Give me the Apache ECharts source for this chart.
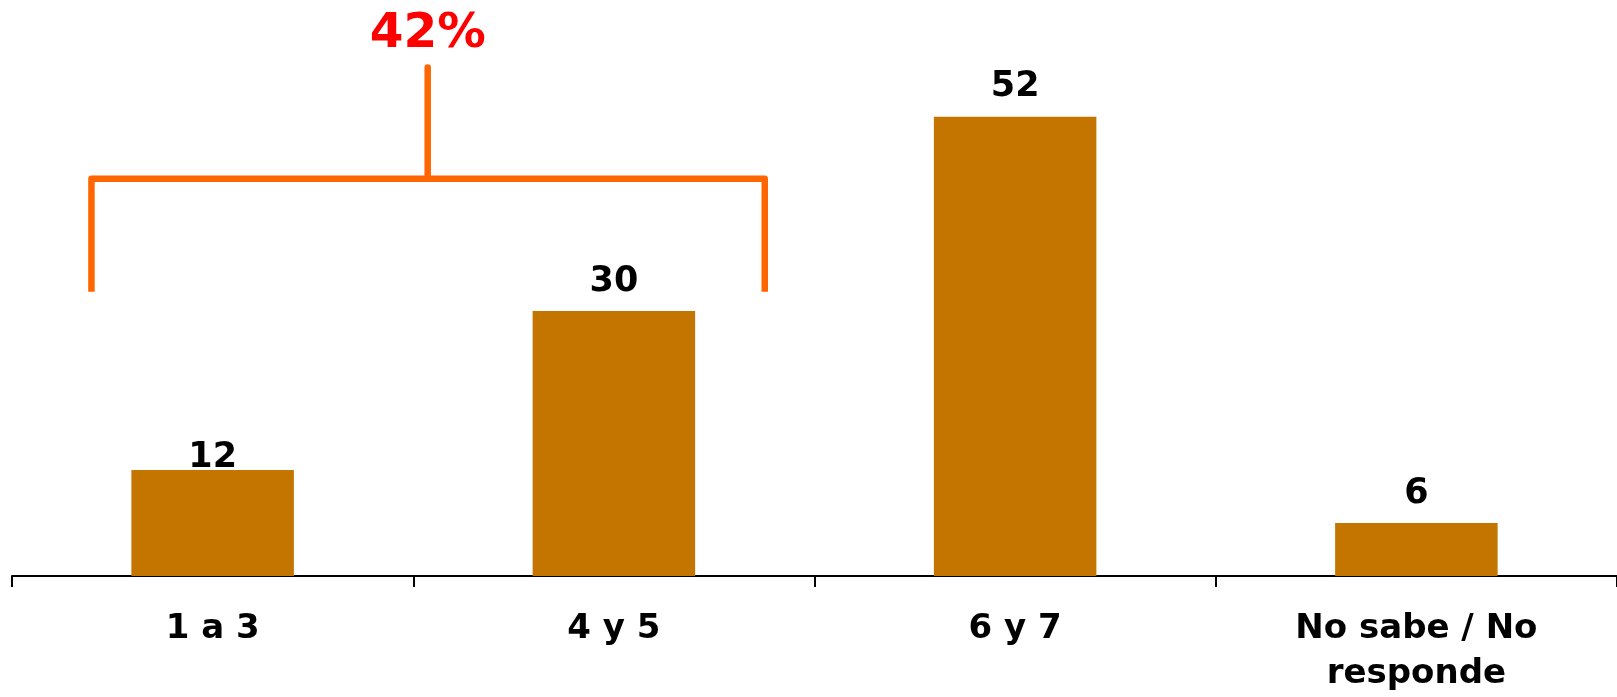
<!DOCTYPE html>
<html>
<head>
<meta charset="utf-8">
<script src="https://cdn.jsdelivr.net/npm/echarts@6/dist/echarts.min.js"></script>
<style>
  html, body { margin: 0; padding: 0; background: #fff; }
  #chart { width: 1617px; height: 697px; }
</style>
</head>
<body>
<div id="chart"></div>
<script>
// Survey answers grouped by score range
const categories = ['1 a 3', '4 y 5', '6 y 7', 'No sabe / No\nresponde'];
const values = [12, 30, 52, 6];
// Categories summed under the bracket
const bracketGroup = [0, 1];

const FONT = 'Verdana, "DejaVu Sans", sans-serif';
const BAR_COLOR = '#C47500';
const BRACKET_COLOR = '#FF6600';

const bracketTotal = bracketGroup.reduce((s, i) => s + values[i], 0);

const chart = echarts.init(document.getElementById('chart'), null, { renderer: 'canvas' });

chart.setOption({
  animation: false,
  backgroundColor: '#fff',
  grid: { left: 12, width: 1612, top: 46.2, height: 535.8, containLabel: false },
  xAxis: {
    type: 'category',
    data: categories,
    boundaryGap: true,
    axisLine: { lineStyle: { color: '#000', width: 2 } },
    axisTick: { show: true, length: 11, lineStyle: { color: '#000', width: 2 } },
    axisLabel: {
      color: '#000', fontFamily: FONT, fontWeight: 'bold', fontSize: 34,
      lineHeight: 45, margin: 31, interval: 0
    }
  },
  yAxis: {
    type: 'value', min: 0, max: 60, show: false,
    splitLine: { show: false }
  },
  series: [
    {
      type: 'bar',
      data: values.map((v, i) => ({
        value: v,
        label: { distance: i === 0 ? -5 : 12 }
      })),
      barWidth: '40.5%',
      itemStyle: { color: BAR_COLOR },
      label: {
        show: true, position: 'top', color: '#000',
        fontFamily: FONT, fontWeight: 'bold', fontSize: 35
      }
    },
    {
      // Bracket joining the low-score categories with their combined share
      type: 'custom',
      silent: true,
      z: 5,
      data: [[bracketGroup[0], 0]],
      renderItem: function (params, api) {
        const band = api.size([1, 0])[0];
        const c0 = api.coord([bracketGroup[0], 0])[0];
        const xl = c0 - 0.302 * band;
        const xr = c0 + 1.376 * band;
        const xm = c0 + 0.536 * band;
        const yEnd = api.coord([0, 32.2])[1];
        const yBar = api.coord([0, 45.0])[1];
        const yStem = api.coord([0, 57.6])[1];
        const yText = api.coord([0, 61.3])[1];
        const style = { stroke: BRACKET_COLOR, lineWidth: 6.5, fill: null, lineJoin: 'round' };
        return {
          type: 'group',
          children: [
            { type: 'polyline', shape: { points: [[xl, yEnd], [xl, yBar], [xr, yBar], [xr, yEnd]] }, style: style },
            { type: 'line', shape: { x1: xm, y1: yBar, x2: xm, y2: yStem }, style: Object.assign({}, style, { lineCap: 'round' }) },
            {
              type: 'text',
              x: xm, y: yText,
              style: {
                text: bracketTotal + '%', fill: '#FF0000',
                font: 'bold 48.5px ' + FONT, align: 'center', verticalAlign: 'middle'
              }
            }
          ]
        };
      }
    }
  ]
});
</script>
</body>
</html>
